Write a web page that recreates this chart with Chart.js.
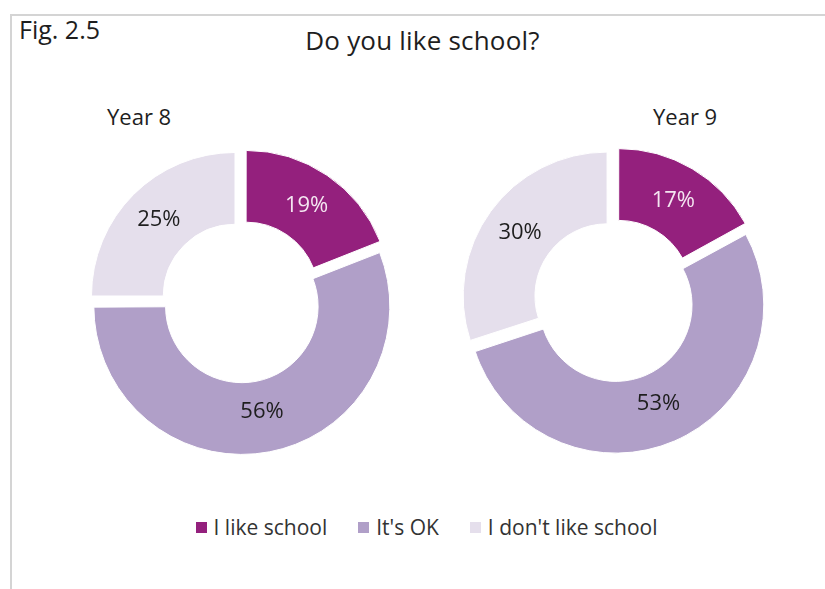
<!DOCTYPE html>
<html>
<head>
<meta charset="utf-8">
<script src="https://cdn.jsdelivr.net/npm/chart.js@4/dist/chart.umd.min.js"></script>
<style>
    body { margin: 0; background: #fff; font-family: "Open Sans", Lato, sans-serif; color: #1e1e1e; }
    #page { position: relative; width: 825px; height: 589px; overflow: hidden; }
    .frame { position: absolute; left: 10px; top: 14px; width: 900px; height: 700px; border: 2px solid #d4d4d4; }
    .txt { position: absolute; white-space: nowrap; font-weight: 500; }
    #fig { left: 19px; top: 12px; font-size: 25px; }
    #title { left: 0; width: 845px; text-align: center; top: 22px; font-size: 26px; letter-spacing: 0.2px; }
    #y8 { left: 107px; top: 101px; font-size: 22px; }
    #y9 { left: 653px; top: 101px; font-size: 22px; }
    canvas { position: absolute; }
    #legend { position: absolute; top: 513px; left: 0; width: 852px; display: flex; justify-content: center; font-size: 21px; color: #333; }
    #legend span.item { display: flex; align-items: center; margin: 0 15px; }
    #legend span.box { width: 11px; height: 11px; margin-right: 6px; border: 1px solid #fff; }
</style>
</head>
<body>
<div id="page">
    <div class="frame"></div>
    <div class="txt" id="fig">Fig. 2.5</div>
    <div class="txt" id="title">Do you like school?</div>
    <div class="txt" id="y8">Year 8</div>
    <div class="txt" id="y9">Year 9</div>
    <canvas id="chartY8" width="324" height="324" style="left:79px; top:140px;"></canvas>
    <canvas id="chartY9" width="324" height="324" style="left:452px; top:139px;"></canvas>
    <div id="legend"></div>
</div>
<script>
// Data.
const categories = ["I like school", "It's OK", "I don't like school"];
const year8Values = [19, 56, 25];
const year9Values = [17, 53, 30];
const colours = ["#94207d", "#b09fc8", "#e5dfec"];
const labelColours = ["#f4e6f1", "#1e1e1e", "#1e1e1e"];

// Chart.js draws the offset at a quarter of its value; the big slice also grows by it,
// so it gets a smaller one.
const sliceOffsets = [36, 18, 34];

// Draws the percentage in the middle of each ring slice.
const percentLabels = {
    id: "percentLabels",
    afterDatasetsDraw(chart) {
        const ctx = chart.ctx;
        const meta = chart.getDatasetMeta(0);
        const values = chart.data.datasets[0].data;
        ctx.save();
        ctx.font = "500 22px 'Open Sans', Lato, sans-serif";
        ctx.textAlign = "center";
        ctx.textBaseline = "middle";
        meta.data.forEach((arc, i) => {
            const mid = (arc.startAngle + arc.endAngle) / 2;
            const r = (arc.innerRadius + arc.outerRadius) / 2 + sliceOffsets[i] / 4;
            ctx.fillStyle = labelColours[i];
            ctx.fillText(values[i] + "%", arc.x + Math.cos(mid) * r, arc.y + Math.sin(mid) * r);
        });
        ctx.restore();
    }
};

function loadChart(id, values) {
    const ctx = document.getElementById(id).getContext("2d");
    new Chart(ctx, {
        type: "doughnut",
        data: {
            labels: categories,
            datasets: [{
                data: values,
                backgroundColor: colours,
                borderColor: "#ffffff",
                borderWidth: 1,
                offset: sliceOffsets,
                hoverOffset: 0
            }]
        },
        options: {
            responsive: false,
            animation: false,
            cutout: "50%",
            layout: { padding: 0 },
            plugins: {
                legend: { display: false },
                tooltip: { enabled: false }
            }
        },
        plugins: [percentLabels]
    });
}

function buildLegend() {
    const legend = document.getElementById("legend");
    categories.forEach((c, i) => {
        legend.innerHTML += `<span class="item"><span class="box" style="background:${colours[i]}"></span>${c}</span>`;
    });
}

loadChart("chartY8", year8Values);
loadChart("chartY9", year9Values);
buildLegend();
</script>
</body>
</html>
